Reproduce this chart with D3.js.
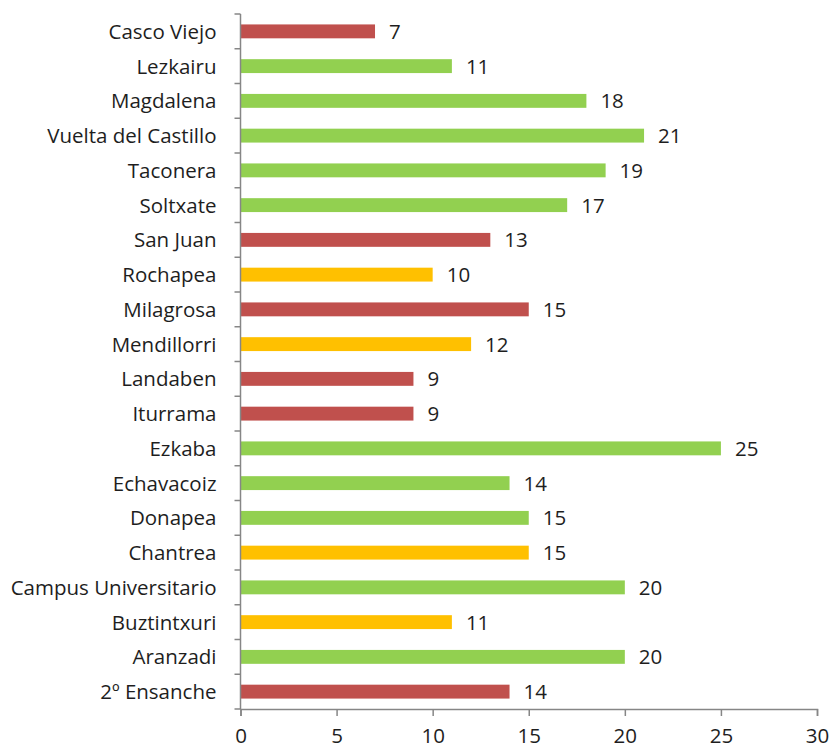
<!DOCTYPE html>
<html>
<head>
<meta charset="utf-8">
<script src="https://cdn.jsdelivr.net/npm/d3@7"></script>
<style>
  body { margin: 0; background: #fff; }
  text { font-family: "Open Sans", Lato, sans-serif; fill: #1e1e1e; }
</style>
</head>
<body>
<div id="chart"></div>
<script>
const barrios = [
  'Casco Viejo', 'Lezkairu', 'Magdalena', 'Vuelta del Castillo', 'Taconera',
  'Soltxate', 'San Juan', 'Rochapea', 'Milagrosa', 'Mendillorri',
  'Landaben', 'Iturrama', 'Ezkaba', 'Echavacoiz', 'Donapea',
  'Chantrea', 'Campus Universitario', 'Buztintxuri', 'Aranzadi', '2º Ensanche',
];
const valores = [7, 11, 18, 21, 19, 17, 13, 10, 15, 12, 9, 9, 25, 14, 15, 15, 20, 11, 20, 14];
const estados = ['rojo', 'verde', 'verde', 'verde', 'verde', 'verde', 'rojo', 'amarillo', 'rojo', 'amarillo',
  'rojo', 'rojo', 'verde', 'verde', 'verde', 'amarillo', 'verde', 'amarillo', 'verde', 'rojo'];
const xTicks = [0, 5, 10, 15, 20, 25, 30];

const colores = { rojo: '#c0504d', verde: '#92d050', amarillo: '#ffc000' };

const width = 833;
const height = 751;
const margin = { top: 14, right: 16, bottom: 42, left: 240.5 };
const fuente = 20.5;

const svg = d3.select('#chart').append('svg')
  .attr('width', width)
  .attr('height', height);

const x = d3.scaleLinear().domain([0, 30]).range([margin.left, width - margin.right]);
const y = d3.scaleBand().domain(barrios).range([margin.top, height - margin.bottom]).paddingInner(0.6).paddingOuter(0.3);

const data = barrios.map((b, i) => ({ name: b, value: valores[i], estado: estados[i] }));

svg.selectAll('rect.bar')
  .data(data)
  .join('rect')
  .attr('class', 'bar')
  .attr('x', x(0))
  .attr('y', (d) => y(d.name))
  .attr('width', (d) => x(d.value) - x(0))
  .attr('height', y.bandwidth())
  .attr('fill', (d) => colores[d.estado]);

svg.selectAll('text.val')
  .data(data)
  .join('text')
  .attr('class', 'val')
  .attr('x', (d) => x(d.value) + 14)
  .attr('y', (d) => y(d.name) + y.bandwidth() / 2)
  .attr('dy', '0.36em')
  .attr('font-size', fuente)
  .text((d) => d.value);

// eje Y: etiquetas y marcas en los límites de cada banda
const yStart = margin.top;
const yEnd = height - margin.bottom;
const gy = svg.append('g');
gy.append('line')
  .attr('x1', x(0)).attr('x2', x(0))
  .attr('y1', yStart).attr('y2', yEnd)
  .attr('stroke', '#868686').attr('stroke-width', 1.5);
gy.selectAll('line.tick')
  .data(d3.range(barrios.length + 1))
  .join('line')
  .attr('class', 'tick')
  .attr('x1', x(0) - 6).attr('x2', x(0))
  .attr('y1', (i) => yStart + i * (yEnd - yStart) / barrios.length)
  .attr('y2', (i) => yStart + i * (yEnd - yStart) / barrios.length)
  .attr('stroke', '#868686').attr('stroke-width', 1.5);
gy.selectAll('text')
  .data(barrios)
  .join('text')
  .attr('x', x(0) - 24)
  .attr('y', (d) => y(d) + y.bandwidth() / 2)
  .attr('dy', '0.36em')
  .attr('text-anchor', 'end')
  .attr('font-size', fuente)
  .text((d) => d);

// eje X
const gx = svg.append('g').attr('transform', `translate(0,${yEnd})`);
gx.call(d3.axisBottom(x).tickValues(xTicks).tickSize(7).tickPadding(12));
gx.select('.domain').attr('stroke', '#868686').attr('stroke-width', 1.5);
gx.selectAll('.tick line').attr('stroke', '#868686').attr('stroke-width', 1.5);
gx.selectAll('.tick text').attr('font-size', fuente).attr('font-family', '"Open Sans", Lato, sans-serif').attr('fill', '#1e1e1e');
</script>
</body>
</html>
